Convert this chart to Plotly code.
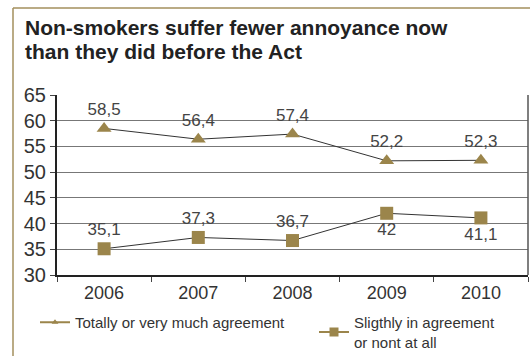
import plotly.graph_objects as go

years = ["2006", "2007", "2008", "2009", "2010"]
agree_vals = [58.5, 56.4, 57.4, 52.2, 52.3]
slight_vals = [35.1, 37.3, 36.7, 42.0, 41.1]
agree_labels = ["58,5", "56,4", "57,4", "52,2", "52,3"]
slight_labels = ["35,1", "37,3", "36,7", "42", "41,1"]
slight_label_pos = ["top center", "top center", "top center", "bottom center", "bottom center"]
y_ticks = [30, 35, 40, 45, 50, 55, 60, 65]
title_lines = ["Non-smokers suffer fewer annoyance now", "than they did before the Act"]

GOLD = "#9b854b"
FONT = "Liberation Sans, Arial, sans-serif"

fig = go.Figure()

fig.add_trace(go.Scatter(
    x=years, y=agree_vals, mode="lines+markers+text",
    text=agree_labels, textposition="top center",
    textfont=dict(size=17, color="#444444", family=FONT),
    line=dict(color="#333333", width=1),
    marker=dict(symbol="triangle-up", size=13, color=GOLD),
    showlegend=False, cliponaxis=False,
))
fig.add_trace(go.Scatter(
    x=years, y=slight_vals, mode="lines+markers+text",
    text=slight_labels, textposition=slight_label_pos,
    textfont=dict(size=17, color="#444444", family=FONT),
    line=dict(color="#333333", width=1),
    marker=dict(symbol="square", size=13, color=GOLD),
    showlegend=False, cliponaxis=False,
))
# legend entries
fig.add_trace(go.Scatter(
    x=[None], y=[None], mode="lines+markers",
    name="Totally or very much agreement",
    line=dict(color=GOLD, width=2),
    marker=dict(symbol="triangle-up", size=6, color=GOLD),
    legend="legend",
))
fig.add_trace(go.Scatter(
    x=[None], y=[None], mode="lines+markers",
    name="Sligthly in agreement<br>or nont at all",
    line=dict(color=GOLD, width=2),
    marker=dict(symbol="square", size=9, color=GOLD),
    legend="legend2",
))

L, R, T, B = 57, 2, 95, 81
W, H = 530, 356
pw, ph = W - L - R, H - T - B

def px_x(px):
    return (px - L) / pw

def px_y(py):
    return (H - B - py) / ph

annotations = []
for i, line in enumerate(title_lines):
    annotations.append(dict(
        text="<b>" + line + "</b>", showarrow=False,
        xref="paper", yref="paper",
        x=px_x(23), xanchor="left",
        y=px_y(27 + 25 * i), yanchor="middle",
        font=dict(size=21, color="#222222", family=FONT),
    ))

legend_common = dict(
    orientation="h", xanchor="left", yanchor="top",
    font=dict(size=15, color="#333333", family=FONT),
    itemwidth=30, bgcolor="rgba(0,0,0,0)",
)

fig.update_layout(
    width=W, height=H,
    margin=dict(l=L, r=R, t=T, b=B, pad=0, autoexpand=False),
    paper_bgcolor="white", plot_bgcolor="white",
    font=dict(family=FONT, color="#333333"),
    annotations=annotations,
    xaxis=dict(
        type="category",
        showline=True, linecolor="#222222", linewidth=2,
        ticks="outside", ticklen=5, tickcolor="#444444",
        tickson="boundaries",
        showgrid=False,
        tickfont=dict(size=18, color="#333333", family=FONT),
        range=[-0.5, 4.5],
    ),
    yaxis=dict(
        range=[30, 65], tickvals=y_ticks,
        showline=True, linecolor="#222222", linewidth=2,
        ticks="outside", ticklen=5, tickcolor="#444444",
        showgrid=True, gridcolor="#777777", gridwidth=1,
        tickfont=dict(size=20, color="#333333", family=FONT),
        zeroline=False,
    ),
    legend=dict(legend_common, x=px_x(35), y=px_y(306)),
    legend2=dict(legend_common, x=px_x(314), y=px_y(306)),
    shapes=[
        dict(type="line", xref="paper", yref="paper", x0=1, x1=1, y0=0, y1=1,
             line=dict(color="#555555", width=1.5)),
        dict(type="line", xref="paper", yref="paper",
             x0=px_x(13), x1=px_x(531), y0=px_y(8), y1=px_y(8),
             line=dict(color="#a38f5c", width=1.5)),
        dict(type="line", xref="paper", yref="paper",
             x0=px_x(13), x1=px_x(13), y0=px_y(8), y1=px_y(357),
             line=dict(color="#a38f5c", width=1.5)),
    ],
)

fig.write_html("out.html")
